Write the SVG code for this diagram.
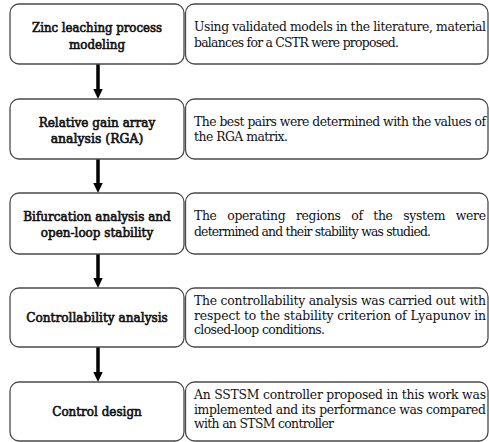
<svg xmlns="http://www.w3.org/2000/svg" width="489" height="442" viewBox="0 0 489 442">
  <style>
    .box { fill: #ffffff; stroke: #4a4a4a; stroke-width: 1.3; }
    /* step titles: serif face thickened with a thin outline stroke */
    .step { font-family: 'DejaVu Serif', 'Liberation Serif', serif; font-size: 13px; font-weight: normal; fill: #111; stroke: #111; stroke-width: 0.65; text-anchor: middle; }
    .desc { font-family: 'DejaVu Serif', 'Liberation Serif', serif; font-size: 12.4px; fill: #111; }
    .shaft { stroke: #000; stroke-width: 3.5; }
    .head { fill: #000; }
  </style>
  <rect width="489" height="442" fill="#ffffff"/>

  <!-- flow arrows between steps -->
  <g id="connectors">
    <line class="shaft" x1="98" y1="64" x2="98" y2="90"/>
    <polygon class="head" points="93.3,89 102.7,89 98,99"/>
    <line class="shaft" x1="98" y1="159" x2="98" y2="184"/>
    <polygon class="head" points="93.3,183 102.7,183 98,193"/>
    <line class="shaft" x1="98" y1="254" x2="98" y2="279"/>
    <polygon class="head" points="93.3,278 102.7,278 98,288"/>
    <line class="shaft" x1="98" y1="347" x2="98" y2="373"/>
    <polygon class="head" points="93.3,372 102.7,372 98,382"/>
  </g>

  <!-- step 1 -->
  <g id="step-modeling">
    <rect class="box" x="10" y="4" width="174" height="60" rx="9"/>
    <text class="step" x="97" y="31.5" textLength="130" lengthAdjust="spacingAndGlyphs">Zinc leaching process</text>
    <text class="step" x="97" y="48.5" textLength="56" lengthAdjust="spacingAndGlyphs">modeling</text>
  </g>
  <g id="desc-modeling">
    <rect class="box" x="185.5" y="4" width="302.5" height="60" rx="9"/>
    <text class="desc" x="194" y="31" textLength="292" lengthAdjust="spacing">Using validated models in the literature, material</text>
    <text class="desc" x="194" y="47" textLength="205" lengthAdjust="spacing">balances for a CSTR were proposed.</text>
  </g>

  <!-- step 2 -->
  <g id="step-rga">
    <rect class="box" x="10" y="99" width="174" height="60" rx="9"/>
    <text class="step" x="97" y="126.5" textLength="116.7" lengthAdjust="spacingAndGlyphs">Relative gain array</text>
    <text class="step" x="97" y="142.5" textLength="92.7" lengthAdjust="spacingAndGlyphs">analysis (RGA)</text>
  </g>
  <g id="desc-rga">
    <rect class="box" x="185.5" y="99" width="302.5" height="60" rx="9"/>
    <text class="desc" x="194" y="125.5" textLength="292" lengthAdjust="spacing">The best pairs were determined with the values of</text>
    <text class="desc" x="194" y="141" textLength="94" lengthAdjust="spacing">the RGA matrix.</text>
  </g>

  <!-- step 3 -->
  <g id="step-bifurcation">
    <rect class="box" x="10" y="193" width="174" height="61" rx="9"/>
    <text class="step" x="97" y="220.5" textLength="147.6" lengthAdjust="spacingAndGlyphs">Bifurcation analysis and</text>
    <text class="step" x="97" y="237" textLength="112.4" lengthAdjust="spacingAndGlyphs">open-loop stability</text>
  </g>
  <g id="desc-bifurcation">
    <rect class="box" x="185.5" y="193" width="302.5" height="61" rx="9"/>
    <text class="desc" x="194" y="220" word-spacing="7" textLength="292" lengthAdjust="spacing">The operating regions of the system were</text>
    <text class="desc" x="194" y="235.5" textLength="237" lengthAdjust="spacing">determined and their stability was studied.</text>
  </g>

  <!-- step 4 -->
  <g id="step-controllability">
    <rect class="box" x="10" y="288" width="174" height="59" rx="9"/>
    <text class="step" x="97" y="322" textLength="141.7" lengthAdjust="spacingAndGlyphs">Controllability analysis</text>
  </g>
  <g id="desc-controllability">
    <rect class="box" x="185.5" y="288" width="302.5" height="59" rx="9"/>
    <text class="desc" x="194" y="305" textLength="292" lengthAdjust="spacing">The controllability analysis was carried out with</text>
    <text class="desc" x="194" y="319.5" textLength="292" lengthAdjust="spacing">respect to the stability criterion of Lyapunov in</text>
    <text class="desc" x="194" y="334" textLength="131" lengthAdjust="spacing">closed-loop conditions.</text>
  </g>

  <!-- step 5 -->
  <g id="step-control">
    <rect class="box" x="10" y="382" width="174" height="59" rx="9"/>
    <text class="step" x="97" y="416" textLength="89.5" lengthAdjust="spacingAndGlyphs">Control design</text>
  </g>
  <g id="desc-control">
    <rect class="box" x="185.5" y="382" width="302.5" height="59" rx="9"/>
    <text class="desc" x="194" y="399" textLength="292" lengthAdjust="spacing">An SSTSM controller proposed in this work was</text>
    <text class="desc" x="194" y="413.5" textLength="292" lengthAdjust="spacing">implemented and its performance was compared</text>
    <text class="desc" x="194" y="428" textLength="140" lengthAdjust="spacing">with an STSM controller</text>
  </g>
</svg>
